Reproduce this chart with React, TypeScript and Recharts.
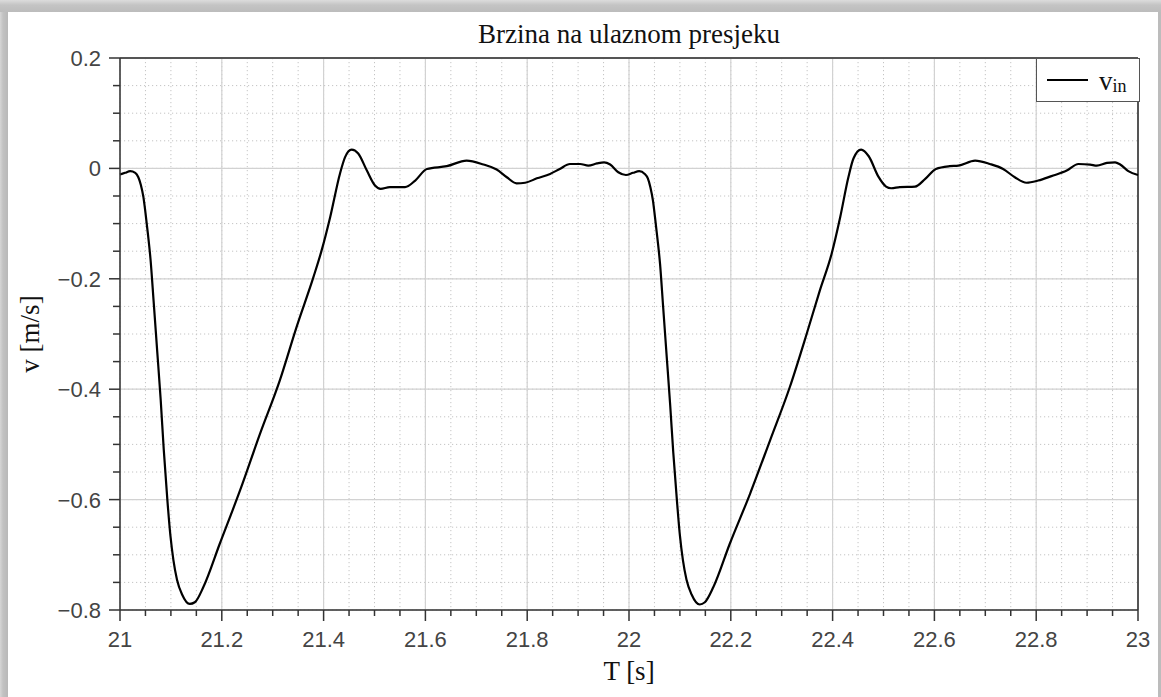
import React from "react";
import {
  LineChart,
  Line,
  XAxis,
  YAxis,
  CartesianGrid,
  ReferenceLine,
  Legend,
  Label,
} from "recharts";

// first pulse, 21.0 - 22.0 s
const cycle1Time = [
  21.0, 21.01, 21.02, 21.03, 21.036, 21.041, 21.046, 21.05, 21.055, 21.06,
  21.066, 21.073, 21.08, 21.086, 21.093, 21.099, 21.105, 21.112, 21.122,
  21.137, 21.147, 21.164, 21.196, 21.236, 21.275, 21.314, 21.347, 21.38,
  21.396, 21.413, 21.432, 21.442, 21.455, 21.468, 21.485, 21.501, 21.512,
  21.53, 21.56, 21.58, 21.603, 21.642, 21.681, 21.714, 21.74, 21.76, 21.779,
  21.796, 21.819, 21.845, 21.864, 21.884, 21.904, 21.92, 21.937, 21.951,
  21.963, 21.979, 21.994,
];
const cycle1Vel = [
  -0.011, -0.008, -0.005, -0.008, -0.016, -0.03, -0.052, -0.08, -0.12, -0.165,
  -0.24, -0.33, -0.42, -0.51, -0.6, -0.665, -0.71, -0.745, -0.772, -0.789,
  -0.786, -0.758, -0.68, -0.583, -0.481, -0.384, -0.287, -0.197, -0.149,
  -0.088, -0.01, 0.02, 0.034, 0.027, -0.004, -0.031, -0.037, -0.034, -0.034,
  -0.022, -0.001, 0.004, 0.014, 0.007, -0.002, -0.016, -0.027, -0.026, -0.018,
  -0.01, -0.001, 0.008, 0.008, 0.005, 0.009, 0.011, 0.007, -0.007, -0.012,
];

// second pulse, 22.0 - 23.0 s
const cycle2Time = [
  22.008, 22.02, 22.031, 22.037, 22.042, 22.047, 22.051, 22.056, 22.061,
  22.067, 22.074, 22.081, 22.087, 22.094, 22.1, 22.106, 22.113, 22.123,
  22.139, 22.149, 22.166, 22.198, 22.238, 22.277, 22.316, 22.349, 22.375,
  22.398, 22.415, 22.431, 22.441, 22.456, 22.471, 22.49, 22.505, 22.515,
  22.532, 22.562, 22.582, 22.603, 22.63, 22.647, 22.68, 22.709, 22.735, 22.758,
  22.781, 22.804, 22.83, 22.86, 22.883, 22.906, 22.919, 22.939, 22.955, 22.965,
  22.981, 23.0,
];
const cycle2Vel = [
  -0.008, -0.005, -0.01, -0.018, -0.034, -0.058, -0.088, -0.128, -0.173,
  -0.25, -0.34, -0.43, -0.515, -0.6, -0.665, -0.71, -0.745, -0.772, -0.79,
  -0.786, -0.758, -0.68, -0.589, -0.493, -0.396, -0.3, -0.221, -0.155, -0.088,
  -0.016, 0.018, 0.034, 0.022, -0.015, -0.033, -0.036, -0.034, -0.033, -0.019,
  -0.001, 0.004, 0.005, 0.014, 0.008, -0.001, -0.016, -0.026, -0.022, -0.014,
  -0.004, 0.008, 0.007, 0.005, 0.01, 0.011, 0.007, -0.005, -0.012,
];

const xMajorTicks = [21, 21.2, 21.4, 21.6, 21.8, 22, 22.2, 22.4, 22.6, 22.8, 23];
const yMajorTicks = [-0.8, -0.6, -0.4, -0.2, 0, 0.2];
const MINOR = 0.05;

const xAllTicks = Array.from({ length: 41 }, (_, i) => +(21 + i * MINOR).toFixed(2));
const yAllTicks = Array.from({ length: 21 }, (_, i) => +(-0.8 + i * MINOR).toFixed(2));

const data = [
  ...cycle1Time.map((t, i) => ({ t, v: cycle1Vel[i] })),
  ...cycle2Time.map((t, i) => ({ t, v: cycle2Vel[i] })),
];

const SANS = "'Liberation Sans', Arial, sans-serif";
const SERIF = "'Liberation Serif', 'Times New Roman', serif";
const LABEL_COLOR = "#444";
const AXIS_COLOR = "#333";

const isMajor = (v: number) => Math.abs(v / 0.2 - Math.round(v / 0.2)) < 1e-6;
const fmtY = (v: number) => (Math.abs(v) < 1e-9 ? "0" : v < 0 ? `\u2212${Math.abs(v)}` : `${v}`);

function XTick(props: any) {
  const { x, y, payload } = props;
  const major = isMajor(payload.value);
  return (
    <g>
      <line x1={x} x2={x} y1={y} y2={y + (major ? 11 : 6)} stroke={AXIS_COLOR} strokeWidth={1.5} />
      {major && (
        <text x={x} y={y + 37} textAnchor="middle" fill={LABEL_COLOR} fontSize={22} fontFamily={SANS}>
          {payload.value}
        </text>
      )}
    </g>
  );
}

function YTick(props: any) {
  const { x, y, payload } = props;
  const major = isMajor(payload.value);
  return (
    <g>
      <line x1={x - (major ? 11 : 7)} x2={x} y1={y} y2={y} stroke={AXIS_COLOR} strokeWidth={1.5} />
      {major && (
        <text x={x - 19} y={y + 8} textAnchor="end" fill={LABEL_COLOR} fontSize={22} fontFamily={SANS}>
          {fmtY(payload.value)}
        </text>
      )}
    </g>
  );
}

function LegendBox({ payload }: any) {
  const item = payload?.[0];
  if (!item) return null;
  const [base, sub] = String(item.value).split("_");
  return (
    <div
      style={{
        boxSizing: "border-box",
        width: 104,
        height: 44,
        border: "1.5px solid #555",
        background: "#fff",
        position: "relative",
      }}
    >
      <svg width={104} height={44} style={{ position: "absolute", left: 0, top: 0 }}>
        <line x1={10} x2={51} y1={21} y2={21} stroke={item.color} strokeWidth={2.2} />
        <text x={62} y={31} fontFamily={SERIF} fontSize={27} fill="#111">
          {base}
          <tspan fontSize={18} dy={2}>
            {sub}
          </tspan>
        </text>
      </svg>
    </div>
  );
}

export default function App() {
  return (
    <div
      style={{
        position: "relative",
        width: 1161,
        height: 697,
        overflow: "hidden",
        background: "linear-gradient(to bottom, #dcdcdc 0px, #c4c4c4 5px, #bcbcbc 12px)",
      }}
    >
      <style>{`body{margin:0}`}</style>
      <div
        style={{
          position: "absolute",
          left: 0,
          top: 12,
          width: 8,
          height: 700,
          background: "linear-gradient(to right, #d6d6d6 0px, #c2c2c2 3px, #b8b8b8 8px)",
        }}
      />
      <div
        style={{
          position: "absolute",
          left: 8,
          top: 12,
          width: 1150,
          height: 700,
          background: "#fff",
        }}
      />
      <div
        style={{
          position: "absolute",
          left: 120,
          top: 19,
          width: 1018,
          textAlign: "center",
          fontFamily: SERIF,
          fontSize: 27,
          lineHeight: "30px",
          color: "#111",
        }}
      >
        Brzina na ulaznom presjeku
      </div>
      <div style={{ position: "absolute", left: 0, top: 0 }}>
        <LineChart width={1161} height={697} data={data} margin={{ top: 58, right: 23, bottom: 0, left: 0 }}>
          <CartesianGrid stroke="#c4c4c4" strokeDasharray="1.2 2.8" strokeWidth={1} />
          <CartesianGrid
            stroke="#d2d2d2"
            strokeWidth={1.2}
            verticalValues={xMajorTicks}
            horizontalValues={yMajorTicks}
          />
          <XAxis
            type="number"
            dataKey="t"
            domain={[21, 23]}
            ticks={xAllTicks}
            interval={0}
            height={87}
            tickSize={0}
            tickMargin={0}
            tick={<XTick />}
            axisLine={{ stroke: AXIS_COLOR, strokeWidth: 1.5 }}
          >
            <Label
              value="T [s]"
              position="insideBottom"
              offset={17}
              fill="#111"
              fontSize={27}
              fontFamily={SERIF}
            />
          </XAxis>
          <YAxis
            type="number"
            domain={[-0.8, 0.2]}
            ticks={yAllTicks}
            interval={0}
            width={120}
            tickSize={0}
            tickMargin={0}
            tick={<YTick />}
            axisLine={{ stroke: AXIS_COLOR, strokeWidth: 1.5 }}
          >
            <Label
              content={({ viewBox }: any) => (
                <text
                  transform={`translate(39, ${viewBox.y + viewBox.height / 2}) rotate(-90)`}
                  textAnchor="middle"
                  fill="#111"
                  fontSize={27}
                  fontFamily={SERIF}
                >
                  v [m/s]
                </text>
              )}
            />
          </YAxis>
          <ReferenceLine y={0.2} stroke="#555" strokeWidth={2} />
          <ReferenceLine x={23} stroke="#555" strokeWidth={2} />
          <Line
            type="monotone"
            dataKey="v"
            name="v_in"
            stroke="#000"
            strokeWidth={2.2}
            dot={false}
            isAnimationActive={false}
          />
          <Legend
            layout="vertical"
            align="center"
            verticalAlign="middle"
            content={<LegendBox />}
            wrapperStyle={{ left: 1036, top: 58, width: 104, height: 44 }}
          />
        </LineChart>
      </div>
    </div>
  );
}
